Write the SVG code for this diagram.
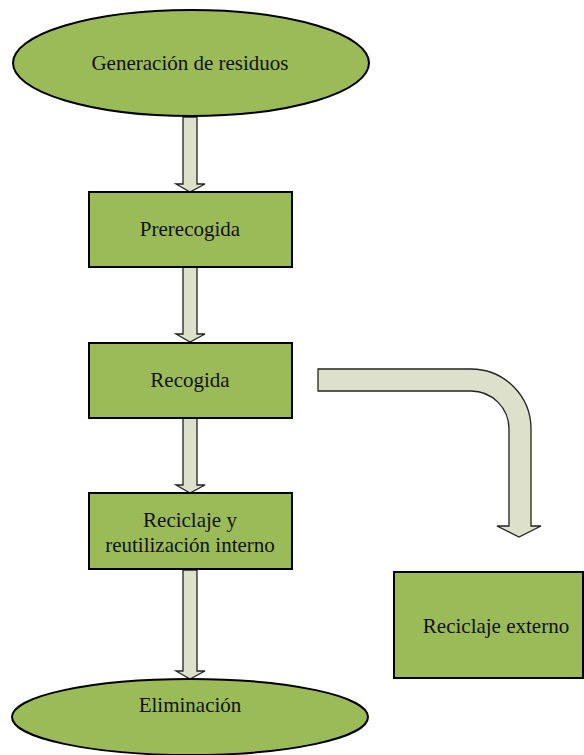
<svg xmlns="http://www.w3.org/2000/svg" width="584" height="755" viewBox="0 0 584 755">
  <style>
    .node { fill: #9BBB59; stroke: #000; stroke-width: 2; }
    .flow { fill: #DDE0CA; stroke: #222; stroke-width: 1.3; stroke-linejoin: miter; }
    .label { font-family: "Liberation Serif", "Times New Roman", serif; font-size: 21px; fill: #111; text-anchor: middle; }
  </style>
  <rect width="584" height="755" fill="#fff"/>

  <!-- block arrows between steps -->
  <g id="connectors">
    <path class="flow" d="M183,117 H197 V184 H205 L190,192 L176,184 H183 Z"/>
    <path class="flow" d="M183,267 H197 V334 H205 L190,342 L176,334 H183 Z"/>
    <path class="flow" d="M183,418 H197 V485 H205 L190,493 L176,485 H183 Z"/>
    <path class="flow" d="M183,570 H197 V671 H205 L190,679 L176,671 H183 Z"/>
    <!-- bent arrow towards external recycling -->
    <path class="flow" d="M318,369 H471 A60,60 0 0 1 531,429 V526 H541 L519,537 L497,526 H509 V429 A38,38 0 0 0 471,391 H318 Z"/>
  </g>

  <g id="generacion">
    <ellipse class="node" cx="191" cy="63" rx="178" ry="53"/>
    <text class="label" x="190" y="70">Generación de residuos</text>
  </g>

  <g id="prerecogida">
    <rect class="node" x="89" y="192" width="203" height="75"/>
    <text class="label" x="190" y="236">Prerecogida</text>
  </g>

  <g id="recogida">
    <rect class="node" x="89" y="343" width="203" height="75"/>
    <text class="label" x="190" y="387">Recogida</text>
  </g>

  <g id="reciclaje-interno">
    <rect class="node" x="89" y="493" width="203" height="76"/>
    <text class="label" x="190" y="527">Reciclaje y</text>
    <text class="label" x="190" y="552">reutilización interno</text>
  </g>

  <g id="reciclaje-externo">
    <rect class="node" x="394" y="572" width="189" height="106"/>
    <text class="label" x="496" y="633">Reciclaje externo</text>
  </g>

  <g id="eliminacion">
    <ellipse class="node" cx="190" cy="717" rx="178" ry="38"/>
    <text class="label" x="190" y="712">Eliminación</text>
  </g>
</svg>
